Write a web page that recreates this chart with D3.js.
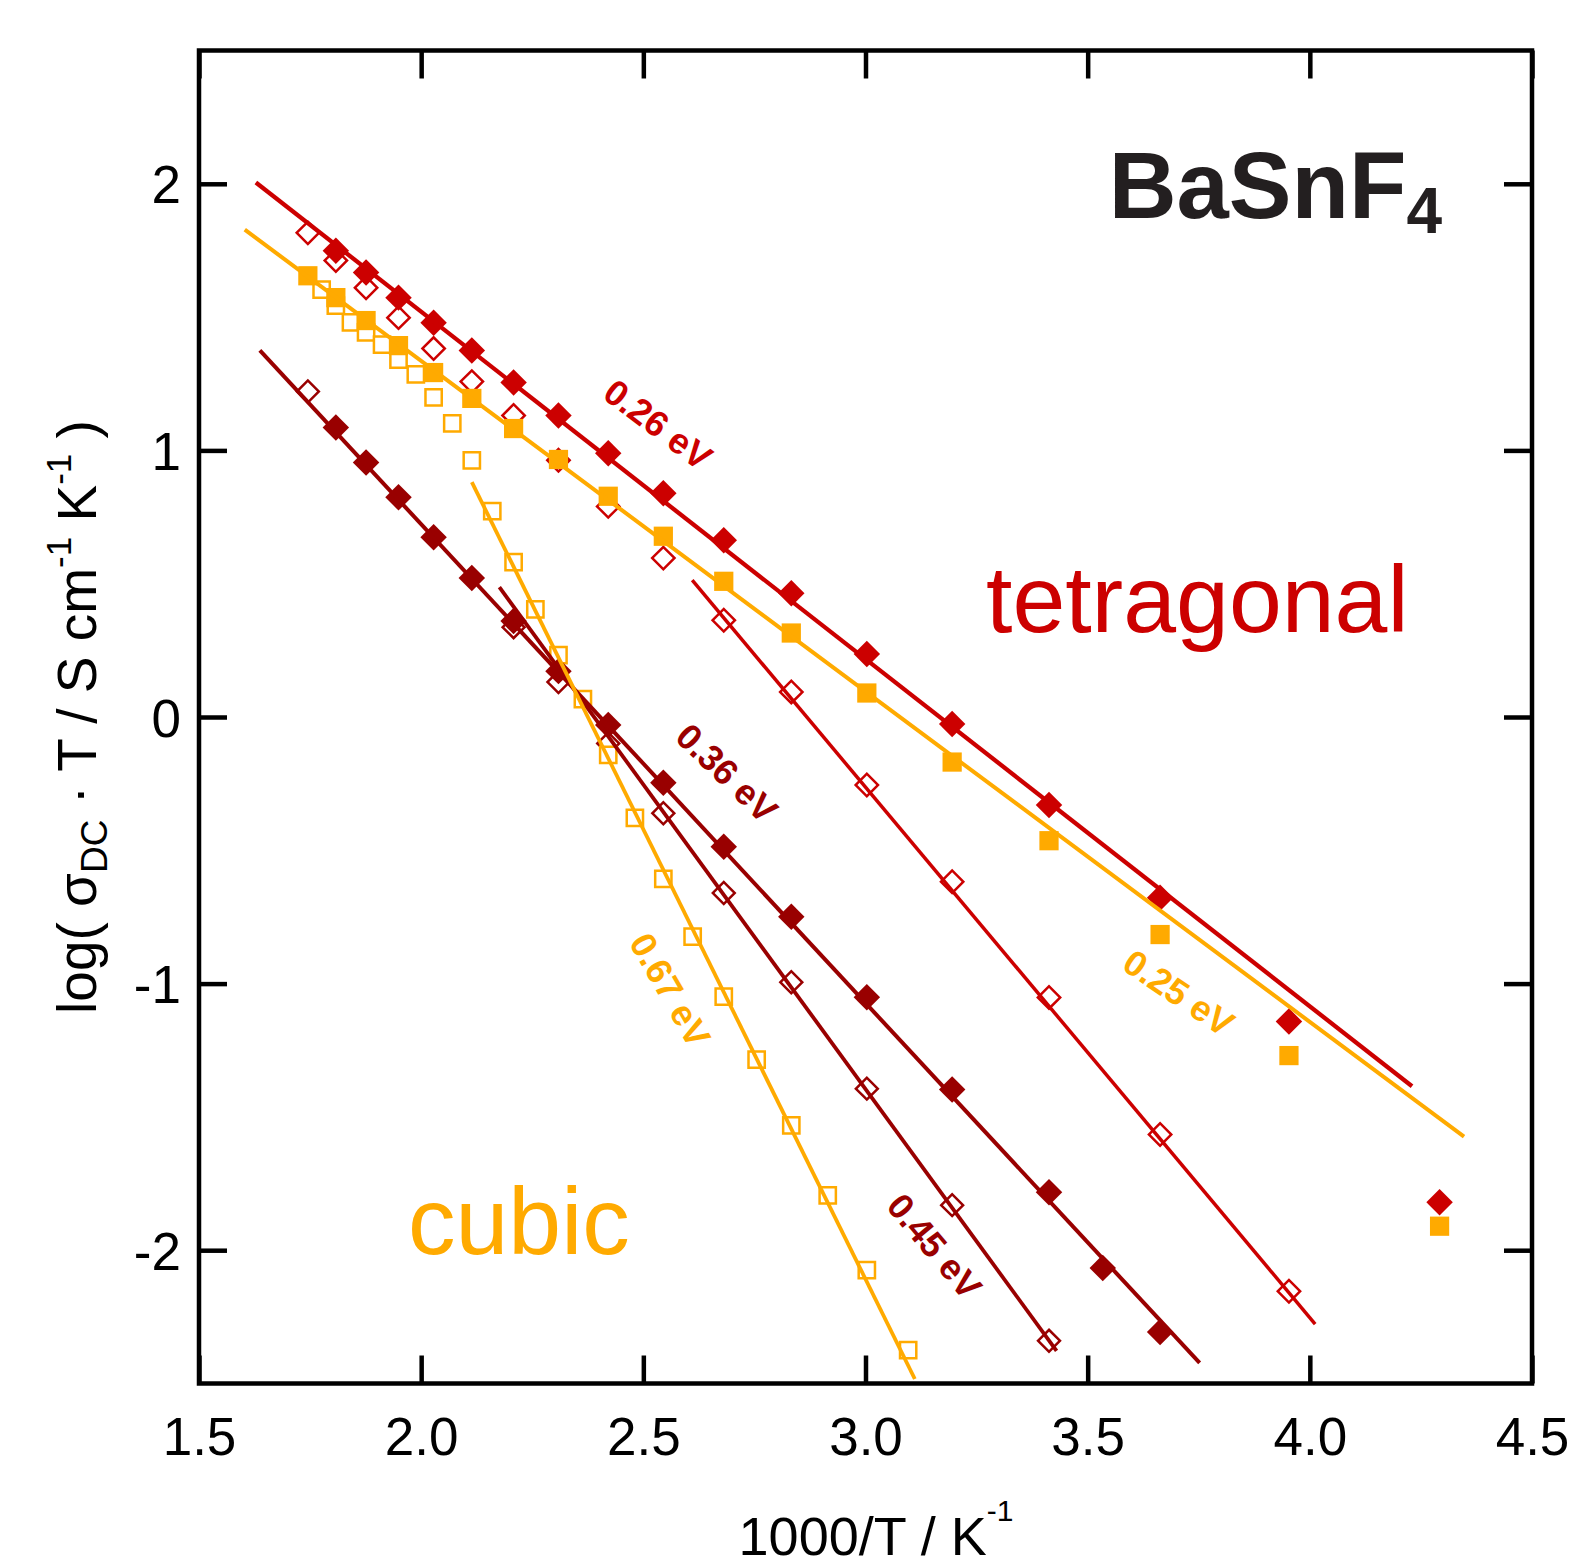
<!DOCTYPE html>
<html>
<head>
<meta charset="utf-8">
<script src="https://cdn.jsdelivr.net/npm/d3@7"></script>
<style>
  body { margin: 0; background: #fff; }
  text { font-family: "Liberation Sans", Arial, Helvetica, sans-serif; }
</style>
</head>
<body>
<div id="chart"></div>
<script>
////////////////////////////////////////////////////////////////////////
// Data (x = 1000/T in K^-1, y = log(sigma_DC * T))

// tetragonal, filled red diamonds
let tetraFilledX = [1.808, 1.876, 1.949, 2.028, 2.114, 2.208, 2.309, 2.421, 2.545, 2.681,
                    2.833, 3.003, 3.195, 3.413, 3.663, 3.953, 4.292];
let tetraFilledY = [1.749, 1.667, 1.573, 1.479, 1.375, 1.255, 1.131, 0.989, 0.839, 0.663,
                    0.464, 0.236, -0.026, -0.330, -0.678, -1.142, -1.820];

// tetragonal, open red diamonds
let tetraOpenX = [1.745, 1.808, 1.876, 1.949, 2.028, 2.114, 2.208, 2.309, 2.421, 2.545,
                  2.681, 2.833, 3.003, 3.195, 3.413, 3.663, 3.953];
let tetraOpenY = [1.816, 1.712, 1.610, 1.498, 1.382, 1.258, 1.131, 0.963, 0.790, 0.596,
                  0.363, 0.094, -0.255, -0.618, -1.052, -1.566, -2.154];

// filled orange squares
let orangeFilledX = [1.745, 1.808, 1.876, 1.949, 2.028, 2.114, 2.208, 2.309, 2.421, 2.545,
                     2.681, 2.833, 3.003, 3.195, 3.413, 3.663, 3.953, 4.292];
let orangeFilledY = [1.655, 1.573, 1.487, 1.393, 1.292, 1.195, 1.082, 0.966, 0.828, 0.678,
                     0.509, 0.315, 0.090, -0.169, -0.464, -0.816, -1.270, -1.910];

// dark red filled diamonds
let darkFilledX = [1.808, 1.876, 1.949, 2.028, 2.114, 2.208, 2.309, 2.421, 2.545, 2.681,
                   2.833, 3.003, 3.195, 3.413, 3.534, 3.663];
let darkFilledY = [1.086, 0.955, 0.824, 0.674, 0.521, 0.360, 0.172, -0.030, -0.247, -0.487,
                   -0.749, -1.051, -1.397, -1.783, -2.067, -2.307];

// dark red open diamonds
let darkOpenX = [1.745, 2.208, 2.309, 2.421, 2.545, 2.681, 2.833, 3.003, 3.195, 3.413];
let darkOpenY = [1.221, 0.337, 0.131, -0.099, -0.361, -0.660, -0.995, -1.394, -1.831, -2.340];

// cubic, open orange squares
let cubicOpenX = [1.776, 1.808, 1.842, 1.876, 1.912, 1.949, 1.988, 2.028, 2.070, 2.114,
                  2.160, 2.208, 2.257, 2.309, 2.364, 2.421, 2.481, 2.545, 2.611, 2.681,
                  2.755, 2.833, 2.915, 3.003, 3.096];
let cubicOpenY = [1.603, 1.543, 1.480, 1.443, 1.397, 1.341, 1.285, 1.199, 1.101, 0.963,
                  0.772, 0.581, 0.404, 0.232, 0.067, -0.142, -0.378, -0.607, -0.824, -1.049,
                  -1.285, -1.532, -1.794, -2.075, -2.375];

// Arrhenius fit lines, end points [x0, x1] and [y0, y1]
let fit026X = [1.628, 4.230], fit026Y = [2.005, -1.385];
let fit025X = [1.603, 4.347], fit025Y = [1.828, -1.574];
let fitSteepX = [2.610, 4.012], fitSteepY = [0.513, -2.277];
let fit036X = [1.637, 3.752], fit036Y = [1.375, -2.423];
let fit045X = [2.176, 3.430], fit045Y = [0.487, -2.378];
let fit067X = [2.114, 3.111], fit067Y = [0.881, -2.483];

// activation energy labels
let eaLabels = ["0.26 eV", "0.36 eV", "0.67 eV", "0.45 eV", "0.25 eV"];
let eaLabelX = [2.533, 2.688, 2.560, 3.155, 3.705];
let eaLabelY = [1.097, -0.210, -1.024, -1.985, -1.035];

let xTicks = [1.5, 2.0, 2.5, 3.0, 3.5, 4.0, 4.5];
let yTicks = [-2, -1, 0, 1, 2];

////////////////////////////////////////////////////////////////////////
// Colors and sizing

const red = "#cc0000";
const darkRed = "#990000";
const orange = "#ffaa00";

let width = 1569;
let height = 1566;

let svg = d3.select("#chart")
  .append("svg")
  .attr("width", width).attr("height", height);

svg.append("rect").attr("width", width).attr("height", height).attr("fill", "#fff");

let xScale = d3.scaleLinear().domain([1.5, 4.5]).range([199, 1532]);
let yScale = d3.scaleLinear().domain([-2.5, 2.5]).range([1383.5, 50.5]);

let zip = (xs, ys) => xs.map((x, i) => ({ x: x, y: ys[i] }));

////////////////////////////////////////////////////////////////////////
// Markers (drawn first, fit lines go on top)

function drawMarkers(points, shape, size, rot, fill, stroke, strokeWidth) {
  svg.append("g")
    .selectAll("path")
    .data(points)
    .enter()
    .append("path")
    .attr("d", d3.symbol().type(shape).size(size))
    .attr("transform", (d) => "translate(" + xScale(d.x) + "," + yScale(d.y) + ") rotate(" + rot + ")")
    .attr("fill", fill)
    .attr("stroke", stroke)
    .attr("stroke-width", strokeWidth);
}

drawMarkers(zip(tetraOpenX, tetraOpenY), d3.symbolSquare, 250, 45, "#fff", red, 2.5);
drawMarkers(zip(darkOpenX, darkOpenY), d3.symbolSquare, 240, 45, "#fff", darkRed, 2.5);
drawMarkers(zip(cubicOpenX, cubicOpenY), d3.symbolSquare, 265, 0, "#fff", orange, 2.5);
drawMarkers(zip(orangeFilledX, orangeFilledY), d3.symbolSquare, 370, 0, orange, "none", 0);
drawMarkers(zip(darkFilledX, darkFilledY), d3.symbolSquare, 350, 45, darkRed, "none", 0);
drawMarkers(zip(tetraFilledX, tetraFilledY), d3.symbolSquare, 350, 45, red, "none", 0);

////////////////////////////////////////////////////////////////////////
// Fit lines

let line = d3.line().x((d) => xScale(d.x)).y((d) => yScale(d.y));

function drawFit(xs, ys, color, w) {
  svg.append("path")
    .datum(zip(xs, ys))
    .attr("d", line)
    .attr("fill", "none")
    .attr("stroke", color)
    .attr("stroke-width", w);
}

drawFit(fit025X, fit025Y, orange, 4);
drawFit(fit026X, fit026Y, red, 4.3);
drawFit(fitSteepX, fitSteepY, red, 3.5);
drawFit(fit036X, fit036Y, darkRed, 4);
drawFit(fit045X, fit045Y, darkRed, 3.8);
drawFit(fit067X, fit067Y, orange, 3.8);

// Activation energy labels, rotated along their lines
let labelColors = [red, darkRed, orange, darkRed, orange];
let labelAngles = [37, 44, 60, 50, 34];

svg.append("g")
  .selectAll("text")
  .data(eaLabels)
  .enter()
  .append("text")
  .attr("transform", (d, i) => "translate(" + xScale(eaLabelX[i]) + "," + yScale(eaLabelY[i]) + ") rotate(" + labelAngles[i] + ")")
  .attr("text-anchor", "middle")
  .attr("dominant-baseline", "central")
  .attr("font-size", 36)
  .attr("font-weight", "bold")
  .attr("fill", (d, i) => labelColors[i])
  .text((d) => d);

////////////////////////////////////////////////////////////////////////
// Frame and inward ticks on all four sides

let tickLen = 28;

let xAxisB = svg.append("g")
  .attr("transform", "translate(0," + yScale(-2.5) + ")")
  .call(d3.axisBottom(xScale).tickValues(xTicks).tickFormat(d3.format(".1f"))
    .tickSizeInner(-tickLen).tickSizeOuter(0).tickPadding(34));

let xAxisT = svg.append("g")
  .attr("transform", "translate(0," + yScale(2.5) + ")")
  .call(d3.axisTop(xScale).tickValues(xTicks).tickFormat("")
    .tickSizeInner(-tickLen).tickSizeOuter(0));

let yAxisL = svg.append("g")
  .attr("transform", "translate(" + xScale(1.5) + ",0)")
  .call(d3.axisLeft(yScale).tickValues(yTicks)
    .tickFormat((d) => d < 0 ? "-" + Math.abs(d) : String(d))
    .tickSizeInner(-tickLen).tickSizeOuter(0).tickPadding(18));

let yAxisR = svg.append("g")
  .attr("transform", "translate(" + xScale(4.5) + ",0)")
  .call(d3.axisRight(yScale).tickValues(yTicks).tickFormat("")
    .tickSizeInner(-tickLen).tickSizeOuter(0));

[xAxisB, xAxisT, yAxisL, yAxisR].forEach((g) => {
  g.select(".domain").remove();
  g.selectAll(".tick line").attr("stroke", "#000").attr("stroke-width", 4.5);
  g.selectAll(".tick text")
    .attr("font-family", "'Liberation Sans', Arial, Helvetica, sans-serif")
    .attr("font-size", 53)
    .attr("fill", "#000");
});
yAxisL.selectAll(".tick text").attr("dy", "0.36em");

svg.append("rect")
  .attr("x", xScale(1.5)).attr("y", yScale(2.5))
  .attr("width", xScale(4.5) - xScale(1.5))
  .attr("height", yScale(-2.5) - yScale(2.5))
  .attr("fill", "none")
  .attr("stroke", "#000")
  .attr("stroke-width", 4.5);

////////////////////////////////////////////////////////////////////////
// Axis titles

let xTitle = svg.append("text")
  .attr("x", 876).attr("y", 1555)
  .attr("text-anchor", "middle")
  .attr("font-size", 54)
  .attr("fill", "#000");
xTitle.append("tspan").text("1000/T / K");
xTitle.append("tspan").attr("font-size", 30).attr("dy", -34).text("-1");

let yTitle = svg.append("text")
  .attr("transform", "translate(96," + yScale(0) + ") rotate(-90)")
  .attr("text-anchor", "middle")
  .attr("font-size", 55)
  .attr("fill", "#000");
yTitle.append("tspan").text("log( \u03c3");
yTitle.append("tspan").attr("font-size", 37).attr("dy", 11).text("DC");
yTitle.append("tspan").attr("dy", -11).text(" \u00b7 T / S cm");
yTitle.append("tspan").attr("font-size", 35).attr("dy", -25).text("-1");
yTitle.append("tspan").attr("dy", 25).text(" K");
yTitle.append("tspan").attr("font-size", 35).attr("dy", -25).text("-1");
yTitle.append("tspan").attr("dy", 25).text(" )");

////////////////////////////////////////////////////////////////////////
// Phase labels and compound name

svg.append("text")
  .attr("x", 986).attr("y", 632)
  .attr("font-size", 95)
  .attr("fill", red)
  .text("tetragonal");

svg.append("text")
  .attr("x", 408).attr("y", 1254)
  .attr("font-size", 95)
  .attr("fill", orange)
  .text("cubic");

let title = svg.append("text")
  .attr("x", 1442).attr("y", 218)
  .attr("text-anchor", "end")
  .attr("font-size", 94)
  .attr("font-weight", "bold")
  .attr("fill", "#231f20");
title.append("tspan").text("BaSnF");
title.append("tspan").attr("font-size", 64).attr("dy", 15).text("4");
</script>
</body>
</html>
